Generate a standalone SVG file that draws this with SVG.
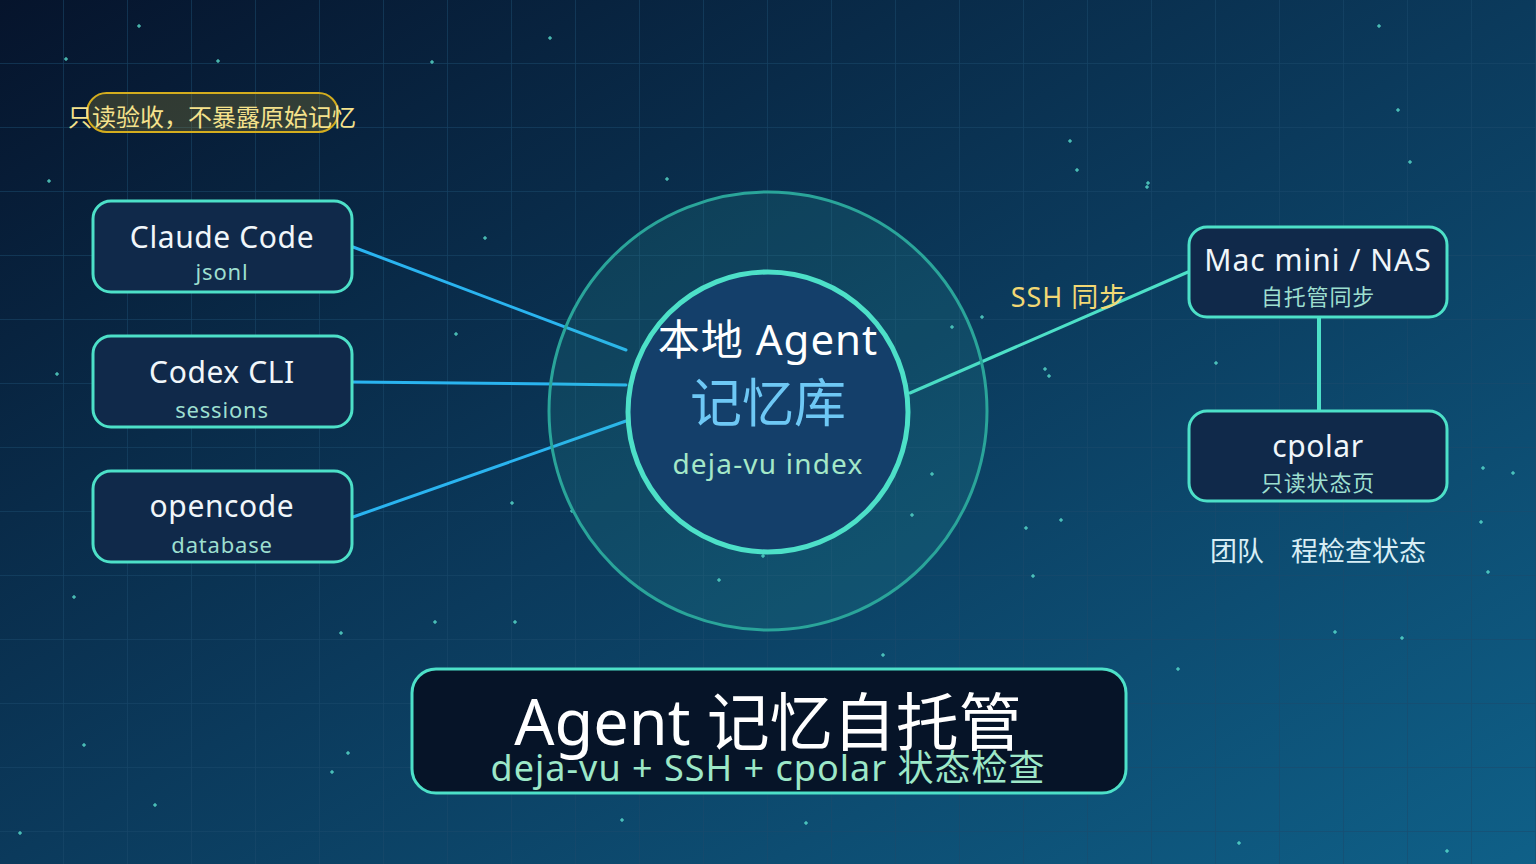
<svg xmlns="http://www.w3.org/2000/svg" width="1536" height="864" viewBox="0 0 1536 864">
<defs>
<linearGradient id="bg" x1="0" y1="0" x2="1" y2="1">
<stop offset="0" stop-color="#06142c"/>
<stop offset="0.5" stop-color="#0b3a5c"/>
<stop offset="1" stop-color="#0f6088"/>
</linearGradient>
<pattern id="grid" width="64" height="64" patternUnits="userSpaceOnUse">
<path d="M64 0 V64 M0 64 H64" fill="none" stroke="#1a4a6c" stroke-width="1.5" opacity="0.7"/>
</pattern>
<symbol id="star" overflow="visible"><path d="M-2 0H2M0 -2V2" stroke="#5ee8d4" stroke-width="1"/></symbol>
</defs>
<style>
text{font-family:"Noto Sans","Noto Sans CJK SC",sans-serif;text-anchor:middle}
.box{fill:#10294a;stroke:#4de0c8;stroke-width:3}
.t{fill:#f0f6fa;font-size:30px;letter-spacing:0.6px}
.s{fill:#9ddfd0;font-size:22px;letter-spacing:0.8px}
.cn{fill:none;stroke-width:3;stroke-linecap:round}
</style>
<rect width="1536" height="864" fill="url(#bg)"/>
<rect width="1536" height="864" fill="url(#grid)"/>
<g id="stars">
<use href="#star" x="139" y="26"/><use href="#star" x="66" y="59"/><use href="#star" x="218" y="61"/><use href="#star" x="49" y="181"/><use href="#star" x="550" y="38"/><use href="#star" x="432" y="62"/><use href="#star" x="667" y="179"/><use href="#star" x="485" y="238"/><use href="#star" x="456" y="334"/><use href="#star" x="57" y="374"/><use href="#star" x="512" y="503"/><use href="#star" x="74" y="597"/><use href="#star" x="341" y="633"/><use href="#star" x="515" y="622"/><use href="#star" x="435" y="622"/><use href="#star" x="84" y="745"/><use href="#star" x="155" y="805"/><use href="#star" x="332" y="772"/><use href="#star" x="348" y="753"/><use href="#star" x="20" y="833"/><use href="#star" x="622" y="820"/><use href="#star" x="806" y="823"/><use href="#star" x="883" y="655"/><use href="#star" x="719" y="580"/><use href="#star" x="1070" y="141"/><use href="#star" x="1077" y="170"/><use href="#star" x="1148" y="183"/><use href="#star" x="1147" y="187"/><use href="#star" x="1216" y="363"/><use href="#star" x="1045" y="369"/><use href="#star" x="1049" y="376"/><use href="#star" x="1026" y="528"/><use href="#star" x="1061" y="520"/><use href="#star" x="1033" y="576"/><use href="#star" x="1379" y="26"/><use href="#star" x="1398" y="110"/><use href="#star" x="1410" y="162"/><use href="#star" x="1483" y="468"/><use href="#star" x="1513" y="473"/><use href="#star" x="1481" y="522"/><use href="#star" x="1488" y="572"/><use href="#star" x="1335" y="632"/><use href="#star" x="1402" y="638"/><use href="#star" x="1178" y="669"/><use href="#star" x="1447" y="851"/><use href="#star" x="1239" y="843"/><use href="#star" x="982" y="317"/><use href="#star" x="952" y="327"/><use href="#star" x="932" y="474"/><use href="#star" x="912" y="515"/><use href="#star" x="572" y="511"/><use href="#star" x="763" y="556"/>
</g>
<g id="badge">
<rect x="87" y="93" width="251" height="39" rx="19.5" fill="rgba(200,170,40,0.22)" stroke="#d4ad1e" stroke-width="2"/>
<text x="212" y="126" style="font-size:24px;fill:#f5e28c">只读验收，不暴露原始记忆</text>
</g>
<g id="connectors">
<path class="cn" d="M353 247 L626 350" stroke="#2ab4f0"/>
<path class="cn" d="M353 382 L555 384 L626 385" stroke="#2ab4f0"/>
<path class="cn" d="M353 517 L626 421" stroke="#2ab4f0"/>
<path class="cn" d="M910 393 L1188 272" stroke="#4de0c8"/>
<path class="cn" d="M1319 317 V411" stroke="#4de0c8" style="stroke-width:4;stroke-linecap:butt"/>
<text x="1069" y="307" style="font-size:27px;fill:#f2d874;letter-spacing:1px">SSH 同步</text>
</g>
<g id="hub">
<circle cx="768" cy="411" r="219" fill="rgba(60,200,180,0.12)" stroke="#2aa59a" stroke-width="3"/>
<circle cx="768" cy="412" r="140" fill="#143f6a" stroke="#4de0c8" stroke-width="5"/>
<text x="768" y="355" style="font-size:42px;fill:#ffffff;letter-spacing:1px">本地 Agent</text>
<text x="768" y="422" style="font-size:52px;fill:#6ec8f5">记忆库</text>
<text x="768" y="474" style="font-size:28px;fill:#a4e8c8;letter-spacing:1.2px">deja-vu index</text>
</g>
<g id="claude">
<rect class="box" x="93" y="201" width="259" height="91" rx="18"/>
<text class="t" x="222" y="248">Claude Code</text>
<text class="s" x="222" y="280">jsonl</text>
</g>
<g id="codex">
<rect class="box" x="93" y="336" width="259" height="91" rx="18"/>
<text class="t" x="222" y="383">Codex CLI</text>
<text class="s" x="222" y="418">sessions</text>
</g>
<g id="opencode">
<rect class="box" x="93" y="471" width="259" height="91" rx="18"/>
<text class="t" x="222" y="517">opencode</text>
<text class="s" x="222" y="553">database</text>
</g>
<g id="macmini">
<rect class="box" x="1189" y="227" width="258" height="90" rx="18"/>
<text class="t" x="1318" y="271" style="letter-spacing:1px">Mac mini / NAS</text>
<text class="s" x="1318" y="305">自托管同步</text>
</g>
<g id="cpolar">
<rect class="box" x="1189" y="411" width="258" height="90" rx="18"/>
<text class="t" x="1318" y="457">cpolar</text>
<text class="s" x="1318" y="491">只读状态页</text>
</g>
<g id="team">
<text x="1318" y="561" style="font-size:27px;fill:#d8eef5">团队　程检查状态</text>
</g>
<g id="title">
<rect x="412" y="669" width="714" height="124" rx="24" fill="#061428" stroke="#4de0c8" stroke-width="3"/>
<text x="768" y="745" style="font-size:63px;fill:#ffffff">Agent 记忆自托管</text>
<text x="768" y="781" style="font-size:36px;fill:#9de8c8;letter-spacing:1px">deja-vu + SSH + cpolar 状态检查</text>
</g>
</svg>
